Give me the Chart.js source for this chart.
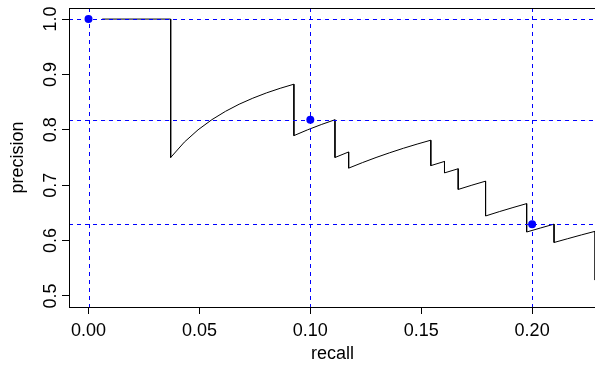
<!DOCTYPE html>
<html><head><meta charset="utf-8">
<script src="https://cdn.jsdelivr.net/npm/chart.js@4.4.1/dist/chart.umd.min.js"></script>
<style>
html,body{margin:0;padding:0;background:#fff;overflow:hidden;}
#wrap{width:600px;height:367px;position:relative;}
</style></head><body>
<div id="wrap"><canvas id="c" width="600" height="367"></canvas></div>
<script>
// Precision-recall curve points
const recall = [0.00617,0.03704,0.03704,0.04321,0.04938,0.05556,0.06173,0.06790,0.07407,0.08025,0.08642,0.09259,
  0.09259,0.09877,0.10494,0.11111,0.11111,0.11728,0.11728,0.12346,0.12963,0.13580,0.14198,0.14815,0.15432,
  0.15432,0.16049,0.16049,0.16667,0.16667,0.17284,0.17901,0.17901,0.18519,0.19136,0.19753,
  0.19753,0.20370,0.20988,0.20988,0.21605,0.22222,0.22840,0.22840];
const precision = [1.0,1.0,0.75,0.7778,0.8,0.8182,0.8333,0.8462,0.8571,0.8667,0.875,0.8824,
  0.7895,0.8,0.8095,0.8182,0.75,0.76,0.7308,0.7407,0.75,0.7586,0.7667,0.7742,0.78125,
  0.7353,0.7429,0.7222,0.7297,0.6923,0.7,0.7073,0.6444,0.6522,0.6596,0.6667,
  0.6154,0.6226,0.6296,0.5965,0.6034,0.6102,0.6167,0.5286];
// Reference points / dashed guide lines
const refRecall = [0, 0.1, 0.2];
const refPrecision = [1.0, 0.8182, 0.6296];
// Axes
const xTicks = [0, 0.05, 0.10, 0.15, 0.20];
const xTickLabels = ["0.00","0.05","0.10","0.15","0.20"];
const yTicks = [0.5, 0.6, 0.7, 0.8, 0.9, 1.0];
const yTickLabels = ["0.5","0.6","0.7","0.8","0.9","1.0"];
const xRange = [-0.0088, 0.2288];
const yRange = [0.48, 1.02];

const FONT = '"Liberation Sans", Arial, Helvetica, sans-serif';

const overlay = {
  id: 'overlay',
  afterDatasetsDraw(chart) {
    const {ctx, chartArea: a, scales: {x, y}} = chart;
    ctx.save();
    ctx.beginPath();
    ctx.rect(a.left, a.top, a.right - a.left, a.bottom - a.top);
    ctx.clip();
    ctx.strokeStyle = '#0000ff';
    ctx.lineWidth = 1;
    ctx.setLineDash([4, 4]);
    refRecall.forEach(v => {
      const px = Math.round(x.getPixelForValue(v)) + 0.5;
      ctx.beginPath(); ctx.moveTo(px, a.top); ctx.lineTo(px, a.bottom); ctx.stroke();
    });
    refPrecision.forEach(v => {
      const py = Math.round(y.getPixelForValue(v)) + 0.5;
      ctx.beginPath(); ctx.moveTo(a.left, py); ctx.lineTo(a.right, py); ctx.stroke();
    });
    ctx.restore();
  },
  afterDraw(chart) {
    const {ctx, chartArea: a, scales: {y}} = chart;
    ctx.save();
    ctx.strokeStyle = '#000';
    ctx.lineWidth = 1;
    ctx.strokeRect(Math.round(a.left) + 0.5, Math.round(a.top) + 0.5,
      Math.round(a.right - a.left), Math.round(a.bottom - a.top));
    ctx.fillStyle = '#000';
    ctx.font = '18px ' + FONT;
    ctx.textAlign = 'center';
    ctx.textBaseline = 'alphabetic';
    yTicks.forEach((v, i) => {
      const py = y.getPixelForValue(v);
      ctx.save();
      ctx.translate(56, py);
      ctx.rotate(-Math.PI / 2);
      ctx.fillText(yTickLabels[i], 0, 0);
      ctx.restore();
    });
    ctx.restore();
  }
};

new Chart(document.getElementById('c'), {
  type: 'scatter',
  data: {
    datasets: [
      {
        data: recall.map((r, i) => ({x: r, y: precision[i]})),
        showLine: true, borderColor: '#000', borderWidth: 1, pointRadius: 0,
        pointHoverRadius: 0, tension: 0, fill: false
      },
      {
        data: refRecall.map((r, i) => ({x: r, y: refPrecision[i]})),
        showLine: false, pointRadius: 4, pointHoverRadius: 4,
        backgroundColor: '#0000ff', borderWidth: 0
      }
    ]
  },
  options: {
    responsive: false,
    animation: false,
    devicePixelRatio: 1,
    layout: {padding: {top: 8, right: 4, left: 0, bottom: 0}},
    plugins: {legend: {display: false}, tooltip: {enabled: false}},
    events: [],
    scales: {
      x: {
        type: 'linear', min: xRange[0], max: xRange[1],
        afterBuildTicks: s => { s.ticks = xTicks.map(v => ({value: v})); },
        afterFit: s => { s.height = 60; },
        ticks: {
          callback: (v, i) => xTickLabels[i],
          font: {family: FONT, size: 18}, color: '#000', padding: 6,
          maxRotation: 0, minRotation: 0, autoSkip: false
        },
        grid: {drawOnChartArea: false, drawTicks: true, tickLength: 7, color: '#000'},
        border: {display: true, color: '#000'},
        title: {display: true, text: 'recall', font: {family: FONT, size: 18}, color: '#000',
          padding: {top: 0, bottom: 2}}
      },
      y: {
        type: 'linear', min: yRange[0], max: yRange[1],
        afterBuildTicks: s => { s.ticks = yTicks.map(v => ({value: v})); },
        afterFit: s => { s.width = 69; },
        ticks: {display: false},
        grid: {drawOnChartArea: false, drawTicks: true, tickLength: 7, color: '#000'},
        border: {display: true, color: '#000'},
        title: {display: true, text: 'precision', font: {family: FONT, size: 18}, color: '#000',
          padding: {top: 7, bottom: 0}}
      }
    }
  },
  plugins: [overlay]
});
</script>
</body></html>
